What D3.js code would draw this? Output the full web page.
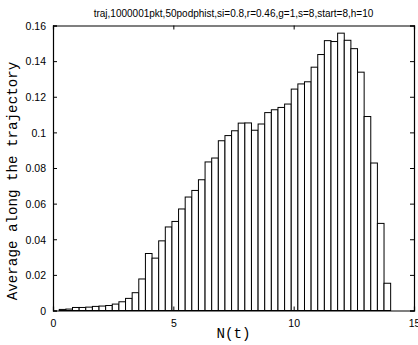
<!DOCTYPE html>
<html>
<head>
<meta charset="utf-8">
<script src="https://cdn.jsdelivr.net/npm/d3@7"></script>
<style>
  html, body { margin: 0; padding: 0; background: #fff; }
  svg { display: block; }
</style>
</head>
<body>
<svg id="chart" width="418" height="345"></svg>
<script>
// Histogram of N(t) along the trajectory: 50 equal bins
const titleText = "traj,1000001pkt,50podphist,si=0.8,r=0.46,g=1,s=8,start=8,h=10";
const xLabel = "N(t)";
const yLabel = "Average along the trajectory";

const binRange = [0.26, 14.03];          // first bin's left edge, last bin's right edge
const binValues = [
  0.0006, 0.0008, 0.0017, 0.0017, 0.0019, 0.0023, 0.0025, 0.0028, 0.0036, 0.0049,
  0.0068, 0.0100, 0.0177, 0.0320, 0.0294, 0.0391, 0.0469, 0.0500, 0.0570, 0.0637,
  0.0674, 0.0734, 0.0834, 0.0856, 0.0953, 0.0982, 0.1009, 0.1052, 0.1053, 0.1012,
  0.1047, 0.1111, 0.1127, 0.1140, 0.1159, 0.1243, 0.1272, 0.1284, 0.1366, 0.1437,
  0.1515, 0.1510, 0.1557, 0.1517, 0.1470, 0.1338, 0.1089, 0.0828, 0.0489, 0.0153
];

const xTicks = [0, 5, 10, 15];
const yTicks = [0, 0.02, 0.04, 0.06, 0.08, 0.1, 0.12, 0.14, 0.16];

const svg = d3.select("#chart");
const plotL = 53, plotR = 414, plotT = 25.5, plotB = 310.5;

const x = d3.scaleLinear().domain([0, 15]).range([plotL, plotR]);
const y = d3.scaleLinear().domain([0, 0.16]).range([plotB, plotT]);

const binWidth = (binRange[1] - binRange[0]) / binValues.length;
const bins = binValues.map((v, i) => ({
  x0: binRange[0] + i * binWidth,
  x1: binRange[0] + (i + 1) * binWidth,
  v
}));

// bars
svg.append("g")
  .selectAll("rect")
  .data(bins)
  .join("rect")
  .attr("x", d => x(d.x0))
  .attr("width", d => x(d.x1) - x(d.x0))
  .attr("y", d => y(d.v))
  .attr("height", d => y(0) - y(d.v))
  .attr("fill", "#fff")
  .attr("stroke", "#000")
  .attr("stroke-width", 1);

const tickFont = "'Liberation Sans', Arial, Helvetica, sans-serif";

// bottom axis with inward ticks
const axB = svg.append("g").attr("transform", `translate(0,${plotB})`)
  .call(d3.axisBottom(x).tickValues(xTicks).tickSize(-4).tickPadding(9).tickFormat(d3.format("d")));
// top axis, ticks only
const axT = svg.append("g").attr("transform", `translate(0,${plotT})`)
  .call(d3.axisTop(x).tickValues(xTicks).tickSize(-4).tickFormat(""));
// left axis
const axL = svg.append("g").attr("transform", `translate(${plotL},0)`)
  .call(d3.axisLeft(y).tickValues(yTicks).tickSize(-4).tickPadding(7).tickFormat(d => d === 0 ? "0" : String(+d.toFixed(2))));
// right axis, ticks only
const axR = svg.append("g").attr("transform", `translate(${plotR},0)`)
  .call(d3.axisRight(y).tickValues(yTicks).tickSize(-4).tickFormat(""));

[axB, axT, axL, axR].forEach(g => {
  g.select(".domain").attr("stroke", "#000").attr("stroke-width", 1.2);
  g.selectAll(".tick line").attr("stroke", "#000").attr("stroke-width", 1);
  g.selectAll(".tick text").attr("fill", "#000")
    .style("font-family", tickFont).style("font-size", "10.5px");
});
axL.selectAll(".tick text").attr("dy", "0.36em");

// title
svg.append("text")
  .attr("x", (plotL + plotR) / 2)
  .attr("y", 17)
  .attr("text-anchor", "middle")
  .style("font-family", tickFont)
  .style("font-size", "10px")
  .attr("fill", "#000")
  .text(titleText);

// axis labels
svg.append("text")
  .attr("x", (plotL + plotR) / 2)
  .attr("y", 338)
  .attr("text-anchor", "middle")
  .style("font-family", "'Liberation Mono', 'Courier New', monospace")
  .style("font-size", "14.2px")
  .attr("fill", "#000")
  .text(xLabel);

svg.append("text")
  .attr("transform", "translate(17,181) rotate(-90)")
  .attr("text-anchor", "middle")
  .style("font-family", "'Liberation Mono', 'Courier New', monospace")
  .style("font-size", "14.2px")
  .attr("fill", "#000")
  .text(yLabel);
</script>
</body>
</html>
